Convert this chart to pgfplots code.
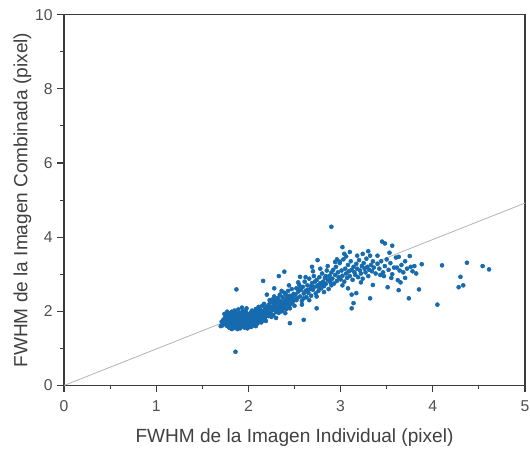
\documentclass[border=0pt]{standalone}
\usepackage{pgfplots}
\pgfplotsset{compat=1.18}
\usepackage{fontspec}
\setmainfont{Liberation Sans}
\definecolor{dotblue}{RGB}{22,106,174}
\definecolor{axgray}{RGB}{60,60,60}
\definecolor{txtgray}{RGB}{80,80,80}
\pgfplotstableread{
x y
1.72 1.62
1.73 1.78
1.74 1.70
1.75 1.85
1.75 1.66
1.76 1.92
1.77 1.74
1.77 1.60
1.78 1.81
1.78 1.69
1.79 1.95
1.79 1.57
1.80 1.76
1.80 1.88
1.81 1.64
1.81 1.72
1.82 1.99
1.82 1.83
1.83 1.58
1.83 1.67
1.84 1.90
1.84 1.78
1.85 1.71
1.85 1.62
1.85 2.02
1.76 1.81
1.74 1.93
1.73 1.67
1.80 1.55
1.82 1.52
1.78 1.87
1.84 1.84
1.71 1.72
1.70 1.60
1.81 1.93
1.83 1.75
1.79 1.65
1.77 1.99
1.75 1.77
1.84 1.55
1.86 1.80
1.86 1.66
1.87 1.93
1.87 1.57
1.88 1.73
1.88 1.85
1.89 1.62
1.89 2.05
1.90 1.77
1.90 1.69
1.91 1.96
1.91 1.54
1.92 1.82
1.92 1.64
1.93 1.88
1.93 1.72
1.94 2.00
1.94 1.60
1.95 1.79
1.95 1.67
1.96 1.92
1.96 1.56
1.97 1.84
1.97 1.70
1.98 2.08
1.98 1.63
1.99 1.76
1.99 1.89
2.00 1.58
2.00 1.81
1.86 1.98
1.88 1.52
1.90 1.86
1.92 1.74
1.94 1.83
1.96 1.75
1.98 1.95
1.87 1.70
1.89 1.78
1.91 1.67
1.93 1.59
1.95 1.91
1.97 1.62
1.99 1.68
1.91 1.85
1.93 1.97
1.95 1.73
1.97 1.78
1.88 1.64
1.90 1.61
1.92 1.93
1.94 1.69
1.96 1.83
1.98 1.73
2.00 1.70
1.86 1.88
1.89 1.92
1.93 2.10
1.97 2.01
1.99 1.54
2.01 1.85
2.01 1.65
2.02 1.94
2.02 1.74
2.03 1.58
2.03 1.80
2.04 2.02
2.04 1.69
2.05 1.88
2.05 1.76
2.06 1.62
2.06 1.97
2.07 1.83
2.07 1.71
2.08 2.06
2.08 1.90
2.09 1.77
2.09 1.66
2.10 1.95
2.10 1.84
2.11 2.12
2.11 1.73
2.12 1.88
2.12 1.98
2.13 1.79
2.13 2.04
2.14 1.92
2.14 1.70
2.15 2.15
2.15 1.86
2.16 2.01
2.16 1.76
2.17 1.93
2.17 2.20
2.18 1.83
2.18 2.08
2.19 1.97
2.19 1.74
2.20 2.11
2.20 1.90
2.02 1.86
2.04 1.91
2.06 1.79
2.08 1.60
2.10 1.68
2.12 1.81
2.14 1.99
2.16 1.86
2.18 1.95
2.03 1.98
2.05 1.64
2.07 1.93
2.09 2.01
2.11 1.89
2.13 1.86
2.15 1.96
2.17 1.80
2.19 2.04
2.01 1.77
2.06 1.87
2.21 2.00
2.22 2.18
2.22 1.87
2.23 2.08
2.24 2.25
2.24 1.95
2.25 2.12
2.26 2.03
2.26 2.32
2.27 1.90
2.28 2.16
2.28 2.40
2.29 2.07
2.30 2.24
2.30 1.98
2.31 2.13
2.32 2.36
2.32 2.05
2.33 2.20
2.34 2.45
2.34 2.10
2.35 2.28
2.36 2.00
2.36 2.18
2.37 2.38
2.38 2.25
2.38 2.12
2.39 2.50
2.40 2.30
2.40 2.17
2.41 2.06
2.42 2.35
2.42 2.22
2.43 2.55
2.44 2.28
2.44 2.14
2.45 2.42
2.46 2.33
2.46 2.20
2.47 2.60
2.48 2.38
2.48 2.25
2.49 2.47
2.50 2.31
2.50 2.15
2.23 2.30
2.27 2.22
2.31 2.28
2.35 2.12
2.39 2.22
2.43 2.39
2.47 2.29
2.21 1.92
2.25 1.85
2.29 2.30
2.33 1.96
2.37 2.05
2.41 2.44
2.45 2.08
2.49 2.33
2.20 2.45
2.28 2.62
2.36 2.55
2.44 2.70
2.30 1.82
2.40 1.95
2.51 2.45
2.52 2.62
2.53 2.35
2.54 2.53
2.55 2.72
2.56 2.40
2.57 2.58
2.58 2.28
2.59 2.66
2.60 2.48
2.61 2.80
2.62 2.55
2.63 2.38
2.64 2.70
2.65 2.50
2.66 2.88
2.67 2.60
2.68 2.42
2.69 2.76
2.70 2.58
2.71 2.95
2.72 2.66
2.73 2.48
2.74 2.84
2.75 2.70
2.76 2.55
2.77 2.92
2.78 2.76
2.79 2.62
2.80 3.02
2.81 2.80
2.82 2.68
2.83 2.90
2.84 2.74
2.85 3.10
2.86 2.85
2.87 2.60
2.88 2.96
2.89 2.78
2.90 3.05
2.52 2.30
2.56 2.62
2.60 2.35
2.64 2.58
2.68 2.68
2.72 2.80
2.76 2.66
2.80 2.72
2.84 2.95
2.88 2.86
2.54 2.78
2.62 2.92
2.70 3.08
2.78 3.15
2.86 3.22
2.58 2.18
2.66 2.30
2.74 2.40
2.82 2.52
2.90 2.70
2.91 2.88
2.92 3.12
2.93 2.75
2.94 2.98
2.95 3.20
2.96 2.82
2.97 3.05
2.98 2.92
2.99 3.30
3.00 2.86
3.01 3.10
3.02 2.96
3.03 3.40
3.04 2.80
3.05 3.15
3.06 3.02
3.07 2.90
3.08 3.25
3.09 3.08
3.10 2.95
3.11 3.35
3.12 3.12
3.13 2.85
3.14 3.20
3.15 3.05
3.16 2.98
3.17 3.28
3.18 3.15
3.19 2.92
3.20 3.38
3.21 3.10
3.22 3.02
3.23 3.22
3.24 2.88
3.25 3.30
3.26 3.15
3.27 3.05
3.28 3.42
3.29 3.20
3.30 2.95
3.31 3.12
3.32 3.50
3.33 3.25
3.34 3.08
3.35 3.35
3.36 3.18
3.38 3.02
3.40 3.28
2.96 3.40
3.04 3.55
3.10 3.60
3.02 2.70
3.08 2.62
2.94 3.33
3.06 3.48
3.18 3.50
3.24 3.55
3.30 3.62
3.12 2.45
3.14 2.22
3.17 2.49
3.12 2.08
3.32 2.35
3.35 2.71
3.22 2.78
3.42 3.15
3.44 3.35
3.45 3.88
3.46 3.05
3.48 3.83
3.48 3.22
3.50 3.40
3.51 2.65
3.52 3.12
3.53 3.58
3.54 3.30
3.56 3.77
3.56 3.00
3.58 3.18
3.60 3.45
3.61 3.18
3.62 2.84
3.63 3.47
3.63 2.57
3.64 3.10
3.66 3.25
3.68 3.05
3.70 3.35
3.72 3.15
3.74 2.35
3.75 3.49
3.76 3.20
3.78 3.08
3.80 3.22
3.82 3.02
3.85 2.59
3.88 3.27
3.47 2.95
3.55 2.90
3.65 2.78
3.40 3.50
3.43 2.98
3.70 2.90
4.10 3.24
4.37 3.31
4.54 3.22
4.61 3.13
4.30 2.93
4.33 2.70
4.28 2.65
4.05 2.18
2.90 4.28
1.86 0.91
1.87 2.59
2.39 3.07
3.02 3.73
2.75 3.38
2.33 2.95
2.16 2.82
2.56 2.93
2.69 3.20
2.99 3.34
2.60 1.77
2.45 1.68
2.74 2.08
}\fwhm
\begin{document}
\begin{tikzpicture}
\useasboundingbox (-48pt,-51.4pt) rectangle (349.5pt,289.1pt);
\begin{axis}[
  at={(0,0)}, anchor=south west,
  scale only axis, width=345.75pt, height=278.1pt,
  xmin=0, xmax=5, ymin=0, ymax=10,
  xtick={0,1,2,3,4,5}, ytick={0,2,4,6,8,10},
  minor x tick num=1, minor y tick num=1,
  xtick pos=bottom, ytick pos=left,
  tick align=outside,
  major tick length=5pt, minor tick length=3pt,
  axis line style={axgray, line width=0.9pt},
  every tick/.style={axgray, line width=0.8pt},
  tick label style={txtgray, font=\fontsize{11.8}{14}\selectfont},
  xticklabel style={yshift=-2.5pt},
  /pgf/number format/assume math mode=true,
  label style={txtgray!80!black, font=\fontsize{14.3}{16}\selectfont},
  xlabel={FWHM de la Imagen Individual (pixel)},
  ylabel={FWHM de la Imagen Combinada (pixel)},
  xlabel style={yshift=-6pt},
  ylabel style={yshift=-4pt},
  clip=false,
]
\addplot[gray!60, line width=0.6pt] coordinates {(0,0) (5,4.92)};
\addplot[only marks, mark=*, mark size=1.5pt, color=dotblue, mark options={draw=none, fill=dotblue}] table[x=x,y=y] {\fwhm};
\end{axis}
\end{tikzpicture}
\end{document}
